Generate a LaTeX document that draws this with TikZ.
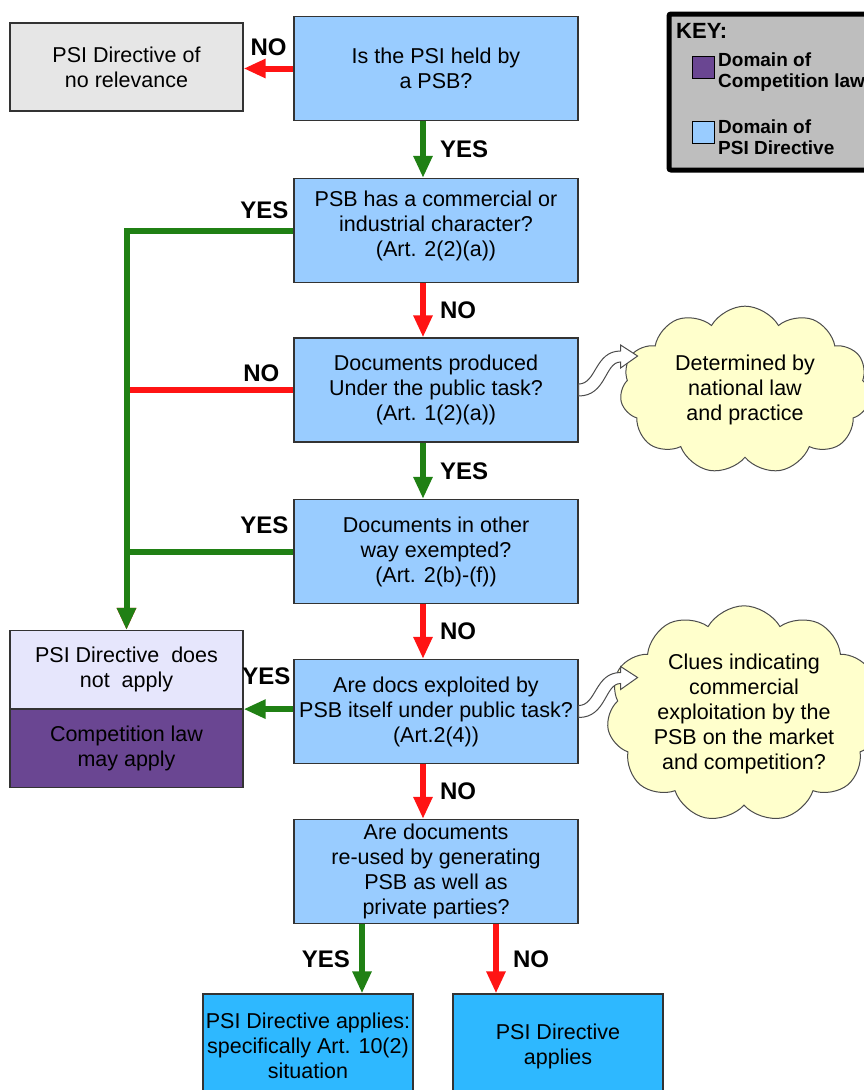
\documentclass[tikz,border=0pt]{standalone}
\usepackage{fontspec}
\setmainfont{Liberation Sans}
\usetikzlibrary{arrows.meta,positioning,shapes.symbols}
\definecolor{psiblue}{RGB}{153,204,255}
\definecolor{appblue}{RGB}{46,184,255}
\definecolor{relgrey}{RGB}{230,230,230}
\definecolor{psilav}{RGB}{230,230,252}
\definecolor{complaw}{RGB}{106,70,146}
\definecolor{keygrey}{RGB}{190,190,190}
\definecolor{cloudyellow}{RGB}{255,255,204}
\definecolor{yesgreen}{RGB}{32,128,20}
\definecolor{nored}{RGB}{255,20,20}
\newcommand{\bendarrow}[1]{%
  \draw[draw=black!70, fill=white, line width=1pt, shift={(#1)}]
    (0,-6) .. controls (18,-6) and (16,-39) .. (42,-39) -- (42,-45) -- (59,-34)
    -- (42,-22) -- (42,-28) .. controls (26,-28) and (28,6) .. (0,6) -- cycle;}

\begin{document}
\begin{tikzpicture}[x=1pt, y=-1pt,
  txt/.style={font=\fontsize{21.5}{25}\selectfont, align=center, inner sep=1pt},
  quest/.style={txt, draw=black!80, line width=1.2pt, fill=psiblue, minimum width=284pt, minimum height=104pt},
  leaf/.style={txt, draw=black!80, line width=1.2pt, minimum width=233pt, minimum height=78pt},
  final/.style={txt, draw=black!80, line width=1.2pt, fill=appblue, minimum width=210pt, minimum height=104pt},
  puff/.style={txt, cloud, cloud puffs=11, cloud puff arc=120, aspect=1.4, draw=black!70, line width=1pt, fill=cloudyellow, inner sep=0pt},
  keytxt/.style={font=\bfseries\fontsize{19}{21}\selectfont, align=left, inner sep=0pt, anchor=west},
  keysq/.style={draw=black, line width=1pt, minimum size=22pt, inner sep=0pt},
  yesline/.style={draw=yesgreen, line width=6pt},
  noline/.style={draw=nored, line width=6pt},
  yesarr/.style={yesline, -{Triangle[length=22pt,width=18pt]}},
  noarr/.style={noline, -{Triangle[length=22pt,width=18pt]}},
  lab/.style={font=\bfseries\fontsize{24}{24}\selectfont, inner sep=2pt}]
  \clip (0,0) rectangle (864,1090);

  \node[quest] (q1) at (436,68.5) {Is the PSI held by\\a PSB?};
  \node[quest] (q2) at (436,230.5) {PSB has a commercial or\\industrial character?\\(Art. 2(2)(a))\\[-12pt]};
  \node[quest] (q3) at (436,390) {Documents produced\\Under the public task?\\(Art. 1(2)(a))};
  \node[quest] (q4) at (436,551.5) {Documents in other\\way exempted?\\(Art. 2(b)-(f))};
  \node[quest] (q5) at (436,711.5) {Are docs exploited by\\PSB itself under public task?\\(Art.2(4))};
  \node[quest] (q6) at (436,871.5) {Are documents\\re-used by generating\\PSB as well as\\private parties?};

  \node[leaf, fill=relgrey, minimum height=88pt] (nr) at (126.5,67) {PSI Directive of\\no relevance};
  \node[leaf, fill=psilav] (na) at (126.5,669.5) {PSI Directive~ does\\not~ apply};
  \node[leaf, fill=complaw, below=0pt of na] (cl) {Competition law\\may apply};

  \node[final] (fa) at (308,1046) {PSI Directive applies:\\specifically Art. 10(2)\\situation};
  \node[final] (fb) at (558,1046) {PSI Directive\\applies};

  \node[draw=black, line width=5pt, fill=keygrey, rounded corners=2pt, minimum width=232pt, minimum height=156pt] (key) at (785,92) {};
  \node[lab, anchor=base west, font=\bfseries\fontsize{22}{22}\selectfont, inner sep=0pt] (keyt) at (676,38) {KEY:};
  \node[keysq, fill=complaw] (ks1) at (703.5,67.5) {};
  \node[keysq, fill=psiblue] (ks2) at (703.5,132) {};
  \node[keytxt] (kt1) at (718,72.5) {Domain of\\Competition law};
  \node[keytxt] (kt2) at (718,137) {Domain of\\PSI Directive};

  \node[puff, minimum width=250pt, minimum height=146pt] (c1) at (745,390) {Determined by\\national law\\and practice};
  \node[puff, minimum width=236pt, minimum height=200pt] (c2) at (744,714) {Clues indicating\\commercial\\exploitation by the\\PSB on the market\\and competition?};

  \bendarrow{q3.east}
  \bendarrow{q5.east}

  \coordinate (ax) at (423,0);
  \coordinate (ya) at (362,0);
  \coordinate (nb) at (496,0);
  \path (q1.south -| ax) edge[yesarr] node[lab, right=12pt] {YES} (q2.north -| ax)
        (q2.south -| ax) edge[noarr] node[lab, right=12pt] {NO} (q3.north -| ax)
        (q3.south -| ax) edge[yesarr] node[lab, right=12pt] {YES} (q4.north -| ax)
        (q4.south -| ax) edge[noarr] node[lab, right=12pt] {NO} (q5.north -| ax)
        (q5.south -| ax) edge[noarr] node[lab, right=12pt] {NO} (q6.north -| ax)
        (q6.south -| ya) edge[yesarr] node[lab, left=7pt] {YES} (fa.north -| ya)
        (q6.south -| nb) edge[noarr] node[lab, right=12pt] {NO} (fb.north -| nb)
        (q1.west) edge[noarr] node[lab, above=8pt] {NO} (q1.west -| nr.east);

  \draw[noarr] (q3.west) -| node[lab, pos=0, anchor=south east, xshift=-9pt, yshift=3pt] {NO} (na.north);
  \draw[yesarr] (q2.west) -| node[lab, pos=0, anchor=south east, yshift=7pt] {YES} (na.north);
  \draw[yesline] (q4.west) -- node[lab, pos=0, anchor=south east, yshift=13pt] {YES} (q4.west -| na.north);
  \draw[yesarr] (q5.west |- na.south) -- node[lab, pos=0, anchor=south east, xshift=2pt, yshift=19pt] {YES} (na.south east);
\end{tikzpicture}
\end{document}
